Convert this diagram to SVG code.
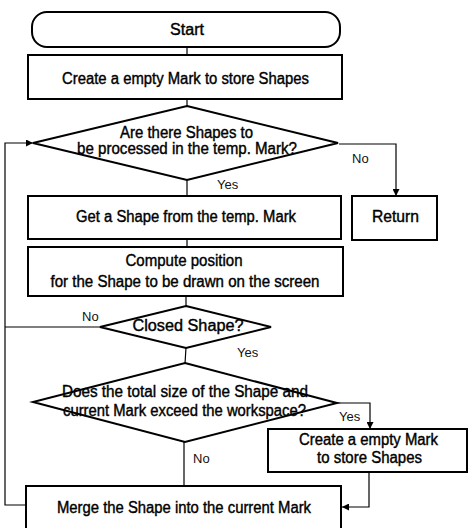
<svg xmlns="http://www.w3.org/2000/svg" width="468" height="528" viewBox="0 0 468 528">
<style>
.box{fill:#fff;stroke:#000;stroke-width:2}
.dia{fill:none;stroke:#000;stroke-width:2}
.con{fill:none;stroke:#000;stroke-width:1.2}
.t{font-family:"Liberation Sans",Arial,sans-serif;font-size:16px;fill:#000;stroke:#000;stroke-width:0.4;text-anchor:middle}
.l{font-family:"Liberation Sans",Arial,sans-serif;font-size:13px;fill:#111}
</style>
<defs>
<marker id="ah" viewBox="0 0 10 10" refX="10" refY="5" markerWidth="7" markerHeight="7" markerUnits="userSpaceOnUse" orient="auto">
<path d="M0,0 L10,5 L0,10 z" fill="#000"/>
</marker>
</defs>
<rect x="0" y="0" width="468" height="528" fill="#fff"/>
<g id="connectors">
<line class="con" x1="187" y1="47" x2="187" y2="55"/>
<line class="con" x1="187" y1="99" x2="187" y2="106"/>
<line class="con" x1="187" y1="180" x2="187" y2="196"/>
<polyline class="con" points="339,144 396,144 396,196" marker-end="url(#ah)"/>
<line class="con" x1="187" y1="239" x2="187" y2="247"/>
<line class="con" x1="186" y1="296" x2="186" y2="306"/>
<line class="con" x1="100" y1="327" x2="5" y2="327"/>
<line class="con" x1="186" y1="348" x2="185" y2="363"/>
<polyline class="con" points="337,403 370,403 370,429" marker-end="url(#ah)"/>
<line class="con" x1="184" y1="442" x2="184" y2="486"/>
<polyline class="con" points="369,472 369,507 342,507" marker-end="url(#ah)"/>
<polyline class="con" points="26,505 5,505 5,143 33,143" marker-end="url(#ah)"/>
</g>
<g id="start">
<rect class="box" x="32" y="12" width="308" height="35" rx="15" ry="15" stroke-width="1.8"/>
<text class="t" x="187" y="35" textLength="34" lengthAdjust="spacingAndGlyphs">Start</text>
</g>
<g id="create-mark">
<rect class="box" x="28" y="55" width="314" height="44"/>
<text class="t" x="185.5" y="84" textLength="247" lengthAdjust="spacingAndGlyphs">Create a empty Mark to store Shapes</text>
</g>
<g id="any-shapes">
<polygon class="dia" points="187,106 338,143 187,180 33,143"/>
<text class="t" x="186.5" y="138" textLength="133" lengthAdjust="spacingAndGlyphs">Are there Shapes to</text>
<text class="t" x="187" y="154" textLength="220" lengthAdjust="spacingAndGlyphs">be processed in the temp. Mark?</text>
</g>
<g id="get-shape">
<rect class="box" x="28" y="196" width="313" height="43"/>
<text class="t" x="186" y="222" textLength="220" lengthAdjust="spacingAndGlyphs">Get a Shape from the temp. Mark</text>
</g>
<g id="return">
<rect class="box" x="352" y="196" width="85" height="44"/>
<text class="t" x="395.5" y="222" textLength="47" lengthAdjust="spacingAndGlyphs">Return</text>
</g>
<g id="compute-position">
<rect class="box" x="28" y="247" width="315" height="49"/>
<text class="t" x="184" y="266" textLength="117" lengthAdjust="spacingAndGlyphs">Compute position</text>
<text class="t" x="185" y="287" textLength="269" lengthAdjust="spacingAndGlyphs">for the Shape to be drawn on the screen</text>
</g>
<g id="closed-shape">
<polygon class="dia" points="186,306 271,327 186,348 100,327"/>
<text class="t" x="188" y="331" textLength="111" lengthAdjust="spacingAndGlyphs">Closed Shape?</text>
</g>
<g id="exceed-workspace">
<polygon class="dia" points="185,363 337,403 185,442 33,402"/>
<text class="t" x="185" y="397" textLength="246" lengthAdjust="spacingAndGlyphs">Does the total size of the Shape and</text>
<text class="t" x="184.5" y="416" textLength="243" lengthAdjust="spacingAndGlyphs">current Mark exceed the workspace?</text>
</g>
<g id="create-mark-2">
<rect class="box" x="268" y="429" width="199" height="43"/>
<text class="t" x="368.5" y="445" textLength="139" lengthAdjust="spacingAndGlyphs">Create a empty Mark</text>
<text class="t" x="369.5" y="463" textLength="105" lengthAdjust="spacingAndGlyphs">to store Shapes</text>
</g>
<g id="merge">
<rect class="box" x="26" y="486" width="315" height="50"/>
<text class="t" x="184" y="513" textLength="254" lengthAdjust="spacingAndGlyphs">Merge the Shape into the current Mark</text>
</g>
<g id="labels">
<text class="l" x="352" y="163">No</text>
<text class="l" x="217" y="189">Yes</text>
<text class="l" x="82" y="321">No</text>
<text class="l" x="237" y="357">Yes</text>
<text class="l" x="339" y="421">Yes</text>
<text class="l" x="193" y="463">No</text>
</g>
</svg>
